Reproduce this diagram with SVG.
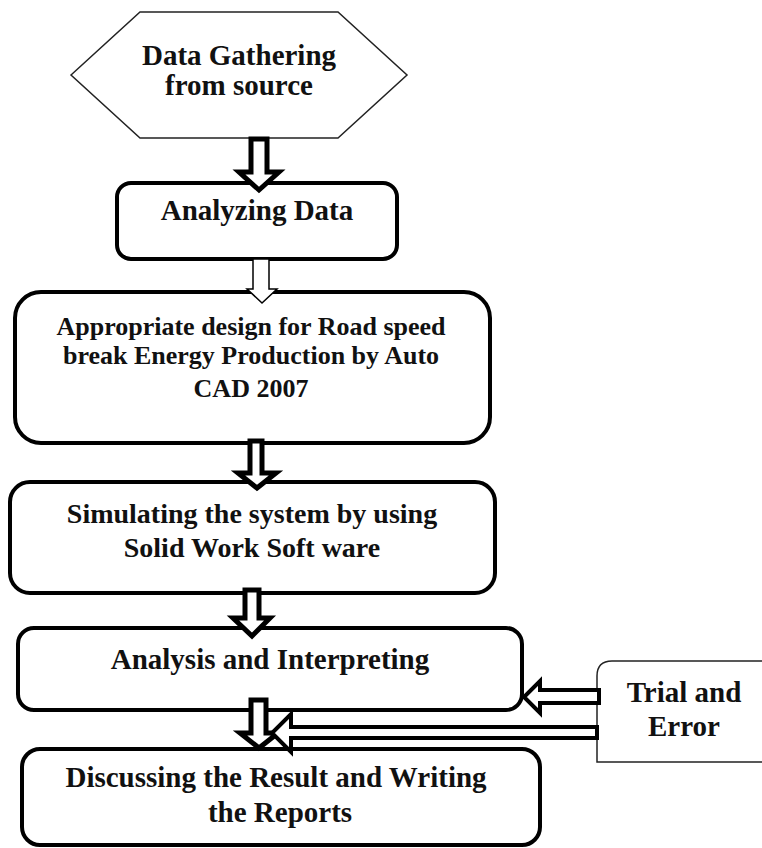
<svg xmlns="http://www.w3.org/2000/svg" width="762" height="848" viewBox="0 0 762 848">
<style>
.box{fill:#fff;stroke:#000;stroke-width:4}
.thin{fill:#fff;stroke:#222;stroke-width:1.5}
.t{font-family:"Liberation Serif","Times New Roman",serif;font-weight:bold;font-size:26px;fill:#111;text-anchor:middle}
.l{font-size:29px}
.m{font-size:28px}
.ar{fill:#fff;stroke:#000;stroke-width:5;stroke-linejoin:miter}
.arh{fill:#fff;stroke:#000;stroke-width:4;stroke-linejoin:miter}
.art{fill:#fff;stroke:#000;stroke-width:1.5}
</style>
<rect width="762" height="848" fill="#fff"/>
<g id="n1">
<polygon class="thin" points="71,75 140,12 338,12 407,75 338,138 140,138"/>
<text class="t l" x="239" y="65">Data Gathering</text>
<text class="t l" x="239" y="95">from source</text>
</g>
<g id="n2">
<rect class="box" x="117" y="183" width="280" height="76" rx="14"/>
<text class="t l" x="257" y="220">Analyzing Data</text>
</g>
<g id="n3">
<rect class="box" x="15" y="292" width="475" height="151" rx="26"/>
<text class="t" x="251" y="335">Appropriate design for Road speed</text>
<text class="t" x="251" y="364">break Energy Production by Auto</text>
<text class="t" x="251" y="397">CAD 2007</text>
</g>
<g id="n4">
<rect class="box" x="10" y="482" width="485" height="111" rx="20"/>
<text class="t m" x="252" y="523">Simulating the system by using</text>
<text class="t m" x="252" y="557">Solid Work Soft ware</text>
</g>
<g id="n5">
<rect class="box" x="18" y="628" width="504" height="82" rx="16"/>
<text class="t l" x="270" y="669">Analysis and Interpreting</text>
</g>
<g id="n6">
<rect class="box" x="22" y="749" width="518" height="96" rx="18"/>
<text class="t l" x="276" y="787">Discussing the Result and Writing</text>
<text class="t l" x="280" y="822">the Reports</text>
</g>
<g id="n7">
<path class="thin" d="M597,762 L597,676 Q597,661 612,661 L770,661 L770,762 Z"/>
<text class="t l" x="684" y="702">Trial and</text>
<text class="t l" x="684" y="736">Error</text>
</g>
<g id="connectors">
<polygon class="ar" points="251,139 267,139 267,172 279,172 259,190 239,172 251,172"/>
<polygon class="art" points="253,259 269,259 269,289 277,289 262,303 247,289 253,289"/>
<polygon class="ar" points="250,441 262,441 262,473 276,473 257,488 238,473 250,473"/>
<polygon class="ar" points="245,590 259,590 259,618 270,618 252,636 233,618 245,618"/>
<polygon class="ar" points="251,700 266,700 266,733 278,733 259,748 240,733 251,733"/>
<polygon class="arh" points="599,690 540,690 540,681 524,697 540,713 540,703 599,703"/>
<polygon class="arh" points="597,727 291,727 291,714 272,733 291,752 291,738 597,738"/>
</g>
</svg>
